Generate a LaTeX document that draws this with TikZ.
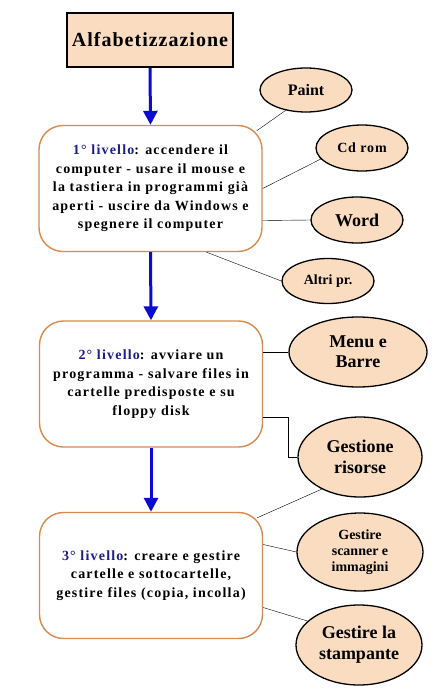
\documentclass[tikz,border=0pt]{standalone}
\usepackage{fontspec}
\setmainfont{Liberation Serif}
\usetikzlibrary{arrows.meta,shapes.geometric}

\definecolor{peach}{HTML}{FADCC0}
\definecolor{rim}{HTML}{D98A4E}
\definecolor{navy}{HTML}{1C1C8C}
\definecolor{flow}{HTML}{0A0AD2}
\newcommand{\lev}[1]{\textcolor{navy}{#1}}

\begin{document}
\begin{tikzpicture}[x=1pt, y=-1pt,
  title/.style={draw, line width=1.6pt, fill=peach, minimum width=166pt, minimum height=54pt, font=\fontsize{20}{24}\selectfont\bfseries\addfontfeature{LetterSpace=5}},
  level/.style={draw=rim, line width=1.4pt, rounded corners=24pt, fill=white, align=center, minimum width=223pt, minimum height=126pt, font=\fontsize{14}{18.5}\selectfont\bfseries\addfontfeature{LetterSpace=8.5}},
  topic/.style={ellipse, draw, line width=1.3pt, fill=peach, align=center, inner sep=0pt},
  flowarr/.style={-{Triangle[width=14pt,length=14pt]}, draw=flow, fill=flow, line width=3pt},
  link/.style={draw, thin}
]
\useasboundingbox (0,0) rectangle (443,693);

\node[title] (alfa) at (150,40) {Alfabetizzazione};

\node[level] (b1) at (150.5,188.5) {\lev{1° livello}: accendere il\\computer - usare il mouse e\\la tastiera in programmi già\\aperti - uscire da Windows e\\spegnere il computer};
\node[level] (b2) at (151,384) {\lev{2° livello}: avviare un\\programma - salvare files in\\cartelle predisposte e su\\floppy disk};
\node[level] (b3) at (151,575.5) {\lev{3° livello}: creare e gestire\\cartelle e sottocartelle,\\gestire files (copia, incolla)};

\node[topic, minimum width=92pt, minimum height=44pt, font=\fontsize{16}{18}\selectfont\bfseries] (paint) at (306,90) {Paint};
\node[topic, minimum width=92pt, minimum height=46pt, font=\fontsize{14}{16}\selectfont\bfseries\addfontfeature{LetterSpace=6}] (cdrom) at (362,148) {Cd rom};
\node[topic, minimum width=92pt, minimum height=46pt, font=\fontsize{18}{20}\selectfont\bfseries] (word) at (357,220) {Word};
\node[topic, minimum width=92pt, minimum height=45pt, font=\fontsize{14}{16}\selectfont\bfseries] (altri) at (328,281) {Altri pr.};
\node[topic, minimum width=138pt, minimum height=70pt, font=\fontsize{18}{20}\selectfont\bfseries] (menu) at (358,352) {Menu e\\Barre};
\node[topic, minimum width=124pt, minimum height=80pt, font=\fontsize{18}{20.5}\selectfont\bfseries] (risorse) at (360,457) {Gestione\\risorse};
\node[topic, minimum width=126pt, minimum height=78pt, font=\fontsize{14}{16}\selectfont\bfseries] (scanner) at (360,552) {Gestire\\scanner e\\immagini};
\node[topic, minimum width=126pt, minimum height=80pt, font=\fontsize{18}{21}\selectfont\bfseries] (stampa) at (359,645) {Gestire la\\stampante};

% flow between levels
\draw[flowarr] (alfa.south) -- (b1.north);
\draw[flowarr] (b1.south) -- (b2.north);
\draw[flowarr] (b2.south) -- (b3.north);

% links to the topics
\draw[link] ([shift={(-6,6)}]b1.north east) -- (paint.225);
\draw[link] (b1.east) -- (cdrom.195);
\draw[link] ([shift={(0,32)}]b1.east) -- (word.west);
\draw[link] ([shift={(56,0)}]b1.south) -- (altri.west);
\draw[link] ([shift={(0,-32)}]b2.east) -- (menu.west);
\draw[link] ([shift={(0,33)}]b2.east) -- ++(25,0) |- (risorse.west);
\draw[link] ([shift={(-6,6)}]b3.north east) -- (risorse.220);
\draw[link] ([shift={(0,-31)}]b3.east) -- (scanner.west);
\draw[link] ([shift={(0,32)}]b3.east) -- (stampa.155);
\end{tikzpicture}
\end{document}
